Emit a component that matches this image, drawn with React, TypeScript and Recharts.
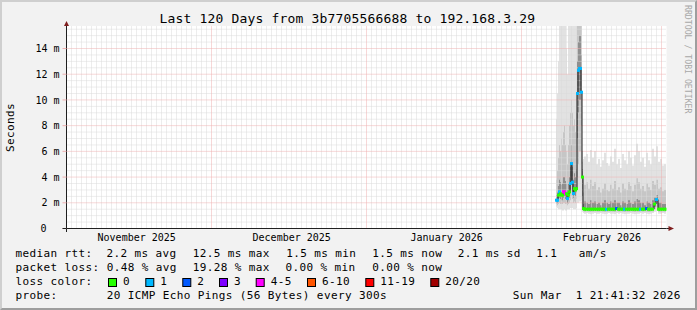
import React from 'react';
import { ComposedChart, Area, Line, Scatter, XAxis, YAxis, CartesianGrid, ReferenceLine } from 'recharts';

// time in days since start of the 120-day window
const day = [
  97.9, 98.1, 98.3, 98.5, 98.7, 98.9, 99.1, 99.3, 99.5, 99.7, 99.9, 100.1, 100.3, 100.5,
  100.7, 100.9, 101.1, 101.3, 101.5, 101.7, 101.9, 102.1, 102.3, 102.5, 102.7, 102.9, 103.1, 103.3,
  103.5, 103.9, 104.3, 104.7, 105.1, 105.5,
  105.9, 106.3, 106.7, 107.1, 107.5, 107.9,
  108.3, 108.7, 109.1, 109.5, 109.9, 110.3,
  110.7, 111.1, 111.5, 111.9, 112.3, 112.7,
  113.1, 113.5, 113.9, 114.3, 114.7, 115.1,
  115.5, 115.9, 116.3, 116.7, 117.1, 117.5,
  117.9, 118.3, 118.7, 119.1, 119.5, 119.9,
];

// ping distribution (milliseconds)
const pMin = [
  1.7, 1.6, 1.5, 1.5, 1.5, 1.5, 1.4, 1.4, 1.5, 1.4, 1.4, 1.5, 1.5, 1.5,
  1.6, 1.6, 1.6, 1.5, 1.5, 1.5, 1.6, 2.0, 2.0, 2.1, 2.1, 2.2, 1.3, 1.2,
  1.15, 1.2, 1.15, 1.1, 1.15, 1.2,
  1.15, 1.15, 1.2, 1.15, 1.1, 1.15,
  1.2, 1.15, 1.15, 1.1, 1.2, 1.15,
  1.2, 1.15, 1.1, 1.15, 1.15, 1.2,
  1.15, 1.1, 1.15, 1.15, 1.2, 1.15,
  1.2, 1.15, 1.1, 1.15, 1.2, 1.3,
  1.4, 1.15, 1.15, 1.2, 1.15, 1.2,
];
const pQ10 = [
  1.9, 1.8, 1.9, 2.0, 1.9, 1.9, 1.9, 2.0, 2.0, 1.9, 1.9, 1.8, 1.9, 2.0,
  2.2, 2.5, 2.3, 2.0, 2.1, 2.0, 2.3, 4.0, 5.0, 6.0, 6.0, 5.0, 1.5, 1.35,
  1.3, 1.32, 1.3, 1.28, 1.3, 1.32,
  1.3, 1.3, 1.32, 1.3, 1.28, 1.3,
  1.32, 1.3, 1.3, 1.28, 1.35, 1.3,
  1.32, 1.3, 1.28, 1.3, 1.3, 1.32,
  1.3, 1.28, 1.3, 1.3, 1.32, 1.3,
  1.32, 1.3, 1.28, 1.3, 1.32, 1.5,
  1.7, 1.3, 1.3, 1.32, 1.3, 1.32,
];
const pQ25 = [
  2.0, 2.0, 2.3, 2.4, 2.3, 2.2, 2.2, 2.4, 2.5, 2.3, 2.3, 2.0, 2.2, 2.4,
  2.8, 3.6, 2.9, 2.4, 2.6, 2.5, 2.8, 7.0, 9.0, 10.0, 10.0, 8.0, 2.5, 1.45,
  1.42, 1.43, 1.42, 1.41, 1.42, 1.43,
  1.42, 1.42, 1.43, 1.42, 1.41, 1.42,
  1.43, 1.42, 1.42, 1.41, 1.45, 1.42,
  1.43, 1.42, 1.41, 1.42, 1.42, 1.43,
  1.42, 1.41, 1.42, 1.42, 1.43, 1.42,
  1.43, 1.42, 1.41, 1.42, 1.43, 1.7,
  1.95, 1.42, 1.42, 1.43, 1.42, 1.43,
];
const pMed = [
  2.2, 2.2, 2.6, 2.85, 2.7, 2.6, 2.6, 2.85, 2.85, 2.7, 2.7, 2.33, 2.6, 2.85,
  3.5, 5.05, 3.6, 2.72, 3.1, 3.0, 3.1, 10.5, 12.3, 12.45, 12.45, 10.6, 4.0, 1.55,
  1.5, 1.5, 1.5, 1.5, 1.5, 1.5,
  1.5, 1.5, 1.5, 1.5, 1.5, 1.5,
  1.5, 1.5, 1.5, 1.5, 1.55, 1.5,
  1.5, 1.5, 1.5, 1.5, 1.5, 1.5,
  1.5, 1.5, 1.5, 1.5, 1.5, 1.5,
  1.5, 1.55, 1.5, 1.5, 1.5, 1.9,
  2.25, 1.5, 1.5, 1.5, 1.5, 1.5,
];
const pQ75 = [
  2.6, 2.8, 3.3, 3.8, 3.6, 3.4, 3.5, 4.0, 4.0, 3.7, 3.5, 3.0, 3.5, 4.0,
  4.8, 6.5, 4.8, 3.8, 4.3, 4.0, 4.6, 13.0, 14.5, 15.0, 15.0, 13.5, 4.6, 1.9,
  2.1, 2.0, 1.9, 2.2, 2.0, 2.1,
  1.9, 2.0, 1.8, 2.0, 2.2, 2.0,
  1.9, 2.1, 2.0, 2.2, 2.0, 2.0,
  1.8, 2.1, 2.0, 1.9, 2.2, 2.0,
  1.9, 2.1, 2.3, 2.2, 2.0, 2.0,
  1.8, 2.1, 2.0, 1.9, 2.2, 2.4,
  2.6, 2.0, 2.0, 1.9, 1.9, 1.9,
];
const pQ90 = [
  3.8, 4.5, 5.5, 6.5, 6.0, 7.0, 6.5, 7.5, 8.0, 6.5, 6.0, 5.0, 6.5, 8.0,
  9.0, 10.0, 9.0, 8.0, 8.5, 7.5, 9.0, 17, 17, 17, 17, 17, 5.2, 2.8,
  3.4, 3.6, 3.1, 3.8, 3.3, 3.6,
  3.0, 3.2, 2.8, 3.1, 3.5, 3.0,
  2.9, 3.4, 3.1, 3.7, 3.0, 3.2,
  2.8, 3.5, 3.1, 3.0, 3.6, 3.3,
  2.9, 3.4, 3.9, 3.6, 3.1, 3.3,
  2.9, 3.5, 3.2, 3.0, 3.7, 3.4,
  3.8, 3.1, 3.2, 2.9, 3.0, 2.9,
];
const pMax = [
  8.5, 10.5, 13.0, 17, 17, 17, 17, 17, 17, 17, 14.0, 12.0, 17, 17,
  17, 17, 17, 17, 17, 17, 17, 17, 17, 17, 17, 17, 6.0, 5.4,
  5.6, 5.8, 5.2, 6.1, 5.5, 6.0,
  5.0, 5.4, 4.8, 5.3, 5.9, 5.1,
  4.9, 5.6, 5.2, 6.2, 5.0, 5.4,
  4.7, 5.8, 5.3, 5.0, 6.0, 5.5,
  4.9, 5.7, 6.6, 6.0, 5.2, 5.5,
  4.8, 5.9, 5.3, 5.0, 6.2, 5.6,
  6.4, 5.2, 5.4, 4.9, 5.0, 4.9,
];
// loss class index per slot (into lossColors)
const loss = [
  1, 1, 0, 1, 0, 0, 0, 4, 4, 4, 0, 1, 0, 0,
  1, 1, 1, 1, 0, 0, 0, 1, 1, 1, 1, 1, 0, 0,
  0, 0, 0, 0, 0, 0,
  0, 0, 0, 0, 0, 1,
  0, 0, 0, 0, 2, 0,
  0, 0, 1, 0, 0, 0,
  0, 0, 0, 0, 1, 0,
  0, 2, 0, 0, 0, 0,
  1, 0, 0, 0, 0, 0,
];

const lossLabels = ['0', '1', '2', '3', '4-5', '6-10', '11-19', '20/20'];
const lossColors = ['#26ff00', '#00b8ff', '#0059ff', '#7e00ff', '#ff00ff', '#ff5500', '#ff0000', '#a10000'];

const monthLabels = ['November 2025', 'December 2025', 'January 2026', 'February 2026'];
const monthLabelDays = [14.04, 45.04, 76.04, 107.1];
const monthStartDays = [29, 60, 91, 119];
const yTicks = [0, 2, 4, 6, 8, 10, 12, 14];
const Y_MAX = 15.75;

const minorDays = Array.from({ length: 119 }, (_, i) => i + 1).filter((d) => !monthStartDays.includes(d));
const minorVals = Array.from({ length: 31 }, (_, i) => (i + 1) * 0.5).filter((v) => v % 2 !== 0);
const majorVals = yTicks.filter((v) => v > 0);

const data = day.map((d, i) => ({
  day: d,
  outer: [pMin[i], pMax[i]],
  mid: [pQ10[i], pQ90[i]],
  inner: [pQ25[i], pQ75[i]],
  med: pMed[i],
  loss: loss[i],
}));

const FONT = 'DejaVu Sans Mono';
const MINOR = '#dadada';
const MAJOR = '#efb0b0';

const YTick = (props: any) => {
  const { x, y, payload } = props;
  const v = payload.value;
  return (
    <text x={v === 0 ? x - 13 : x} y={y} dy={3.6} textAnchor="end" fontFamily={FONT} fontSize={10} fill="#000">
      {v === 0 ? '0' : `${v} m`}
    </text>
  );
};

const XTick = (props: any) => {
  const { x, y, payload } = props;
  const idx = monthLabelDays.indexOf(payload.value);
  return (
    <text x={x} y={y} dy={12.5} textAnchor="middle" fontFamily={FONT} fontSize={10} fill="#000">
      {monthLabels[idx]}
    </text>
  );
};

const MedDot = (props: any) => {
  const { cx, cy, payload } = props;
  if (cx == null || cy == null) return null;
  return <rect x={cx - 1} y={cy - 1.5} width={3} height={3} fill={lossColors[payload.loss]} />;
};

const legendLine1 = [
  ['median rtt:', 16], ['2.2 ms avg', 107], ['12.5 ms max', 193.3], ['1.5 ms min', 286.7],
  ['1.5 ms now', 372.7], ['2.1 ms sd', 458.3], ['1.1', 536.7], ['am/s', 579.3],
] as const;
const legendLine2 = [
  ['packet loss:', 16], ['0.48 % avg', 107.3], ['19.28 % max', 193.3], ['0.00 % min', 286], ['0.00 % now', 372.7],
] as const;
const lossBoxX = [108.5, 145.8, 182.8, 219.5, 256.2, 307.5, 365.8, 430.8];

const lt = { fontFamily: FONT, fontSize: 11, letterSpacing: 0.38, fill: '#000' } as const;

export default function App() {
  return (
    <div
      style={{
        position: 'absolute', left: 0, top: 0, width: 697, height: 310, background: '#f2f2f2',
        boxSizing: 'border-box', borderStyle: 'solid', borderWidth: 2,
        borderColor: '#cfcfcf #9e9e9e #9e9e9e #cfcfcf',
      }}
    >
      <div style={{ position: 'absolute', left: -2, top: -2 }}>
        <ComposedChart width={697} height={310} data={data} margin={{ top: 26, right: 30.5, bottom: 51.5, left: 6.5 }}>
          <CartesianGrid horizontal={false} vertical={false} fill="#ffffff" />
          <XAxis
            type="number" dataKey="day" domain={[0, 120]} ticks={monthLabelDays} interval={0}
            allowDataOverflow height={30} tick={<XTick />} tickLine={false} tickSize={0} tickMargin={0}
            axisLine={{ stroke: '#1f1f1f' }}
          />
          <YAxis
            type="number" domain={[0, Y_MAX]} ticks={yTicks} interval={0} allowDataOverflow width={60}
            tick={<YTick />} tickSize={4} tickMargin={3} tickLine={{ stroke: MAJOR }}
            axisLine={{ stroke: '#1f1f1f' }}
          />
          <Area dataKey="outer" type="stepAfter" stroke="none" fill="#e2e2e2" fillOpacity={1} dot={false} activeDot={false} isAnimationActive={false} />
          <Area dataKey="mid" type="stepAfter" stroke="none" fill="#c6c6c6" fillOpacity={1} dot={false} activeDot={false} isAnimationActive={false} />
          <Area dataKey="inner" type="stepAfter" stroke="none" fill="#8f8f8f" fillOpacity={1} dot={false} activeDot={false} isAnimationActive={false} />
          {minorDays.map((d) => (
            <ReferenceLine key={`vx${d}`} x={d} stroke={MINOR} strokeDasharray="1 1" />
          ))}
          {minorVals.map((v) => (
            <ReferenceLine key={`hy${v}`} y={v} stroke={MINOR} strokeDasharray="1 1" />
          ))}
          {monthStartDays.map((d) => (
            <ReferenceLine key={`mx${d}`} x={d} stroke={MAJOR} strokeDasharray="1 1" />
          ))}
          {majorVals.map((v) => (
            <ReferenceLine key={`my${v}`} y={v} stroke={MAJOR} strokeDasharray="1 1" />
          ))}
          <Line dataKey="med" type="stepAfter" stroke="#1a1a1a" strokeWidth={1} dot={false} activeDot={false} isAnimationActive={false} />
          <Scatter dataKey="med" shape={<MedDot />} isAnimationActive={false} />
        </ComposedChart>
      </div>
      <svg width={697} height={310} style={{ position: 'absolute', left: -2, top: -2, pointerEvents: 'none' }}>
        <line x1={66.5} y1={228.5} x2={66.5} y2={232} stroke="#1f1f1f" />
        <line x1={66.5} y1={26} x2={66.5} y2={22} stroke="#1f1f1f" />
        <line x1={62.5} y1={228.5} x2={66.5} y2={228.5} stroke="#1f1f1f" />
        <line x1={666.5} y1={228.5} x2={670} y2={228.5} stroke="#1f1f1f" />
        <polygon points="64,26 69,26 66.5,21" fill="#801f1f" />
        <polygon points="668.5,226 668.5,231 674,228.5" fill="#801f1f" />

        <text x={159.5} y={23.3} fontFamily={FONT} fontSize={13} letterSpacing={0.17} fill="#000">
          Last 120 Days from 3b7705566688 to 192.168.3.29
        </text>
        <text transform="translate(14.3,127.5) rotate(-90)" textAnchor="middle" {...lt}>Seconds</text>
        <text transform="translate(684.5,5) rotate(90)" fontFamily={FONT} fontSize={8.2} fill="#a8a8a8">
          RRDTOOL / TOBI OETIKER
        </text>

        {legendLine1.map(([t, x]) => (
          <text key={t} x={x - 0.5} y={257.3} {...lt}>{t}</text>
        ))}
        {legendLine2.map(([t, x]) => (
          <text key={t} x={x - 0.5} y={271.3} {...lt}>{t}</text>
        ))}
        <text x={15.5} y={285.3} {...lt}>loss color:</text>
        {lossLabels.map((l, i) => (
          <g key={l}>
            <rect x={lossBoxX[i]} y={278.5} width={8} height={8} fill={lossColors[i]} stroke="#000" strokeWidth={1} />
            <text x={lossBoxX[i] + 14.5} y={285.3} {...lt}>{l}</text>
          </g>
        ))}
        <text x={15.5} y={299.3} {...lt}>probe:</text>
        <text x={106.8} y={299.3} {...lt}>20 ICMP Echo Pings (56 Bytes) every 300s</text>
        <text x={512.8} y={299.3} {...lt} style={{ whiteSpace: 'pre' }} xmlSpace="preserve">Sun Mar  1 21:41:32 2026</text>
      </svg>
    </div>
  );
}
